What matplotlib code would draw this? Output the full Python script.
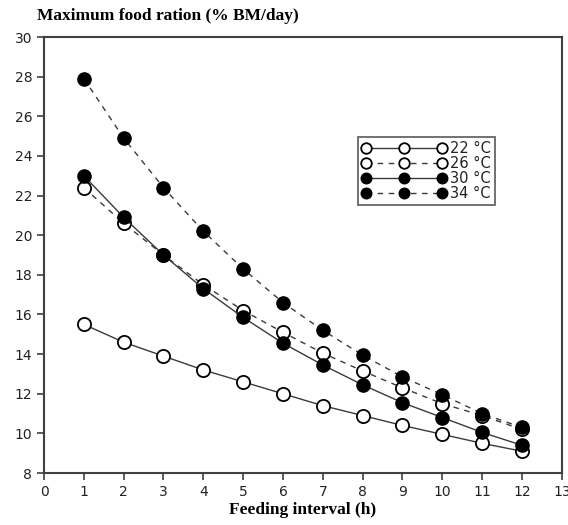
import matplotlib
matplotlib.use("Agg")
import matplotlib.pyplot as plt

intervals = [1, 2, 3, 4, 5, 6, 7, 8, 9, 10, 11, 12]
t22 = [15.5, 14.6, 13.9, 13.2, 12.6, 12.0, 11.4, 10.9, 10.4, 9.95, 9.5, 9.1]
t26 = [22.4, 20.6, 19.0, 17.5, 16.2, 15.1, 14.05, 13.15, 12.3, 11.5, 10.9, 10.2]
t30 = [23.0, 20.9, 19.0, 17.3, 15.85, 14.55, 13.45, 12.45, 11.55, 10.8, 10.05, 9.4]
t34 = [27.9, 24.9, 22.4, 20.2, 18.3, 16.6, 15.2, 13.95, 12.85, 11.95, 11.0, 10.3]
labels = ["22 \u00b0C", "26 \u00b0C", "30 \u00b0C", "34 \u00b0C"]
xticks = list(range(0, 14))
yticks = list(range(8, 31, 2))

fig = plt.figure(figsize=(5.68, 5.25), dpi=100)
ax = fig.add_axes([0.0775, 0.099, 0.9115, 0.8305])

lc = "#3a3a3a"
ms = 9.5
ax.plot(intervals, t22, '-', color=lc, lw=1.0, marker='o', ms=ms, mfc='white', mec='black', mew=1.3, label=labels[0], zorder=3)
ax.plot(intervals, t26, '--', color=lc, lw=1.0, dashes=(4, 4), marker='o', ms=ms, mfc='white', mec='black', mew=1.3, label=labels[1], zorder=3)
ax.plot(intervals, t30, '-', color=lc, lw=1.0, marker='o', ms=ms, mfc='black', mec='black', label=labels[2], zorder=4)
ax.plot(intervals, t34, '--', color=lc, lw=1.0, dashes=(4, 4), marker='o', ms=ms, mfc='black', mec='black', label=labels[3], zorder=4)

ax.set_xlim(0, 13)
ax.set_ylim(8, 30)
ax.set_xticks(xticks)
ax.set_yticks(yticks)
for s in ax.spines.values():
    s.set_color("#404040")
    s.set_linewidth(1.5)
ax.tick_params(direction='out', length=5, width=1.2, color="#404040", labelsize=10, labelcolor="#222222")

ax.set_xlabel("Feeding interval (h)", family="Liberation Serif", fontweight="bold", fontsize=12.5, labelpad=2)
fig.text(0.065, 0.955, "Maximum food ration (% BM/day)", family="Liberation Serif", fontweight="bold", fontsize=12.5, ha="left", va="bottom")

leg = ax.legend(loc="upper left", bbox_to_anchor=(0.606, 0.77), numpoints=3, handlelength=5.8, fontsize=10.5,
                markerscale=0.8, frameon=True, fancybox=False, edgecolor="#404040", borderpad=0.25,
                labelspacing=0.0, handletextpad=0.3, borderaxespad=0)
leg.get_frame().set_linewidth(1.3)
for t in leg.get_texts():
    t.set_color("#222222")

fig.savefig("out.png", dpi=100)
